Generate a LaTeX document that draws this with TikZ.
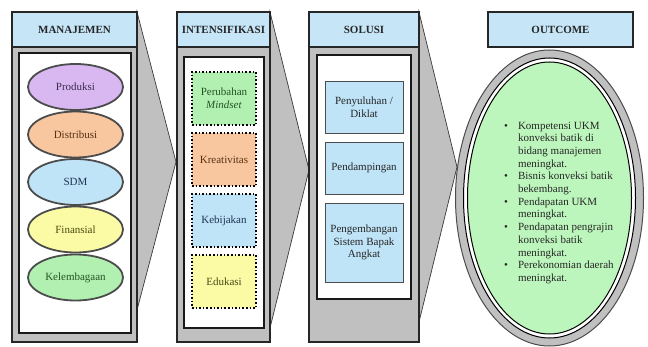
\documentclass[tikz,border=0pt]{standalone}
\usepackage{fontspec}
\setmainfont{Liberation Serif}
\usetikzlibrary{shapes.geometric}

\definecolor{hdrblue}{HTML}{C6E6F8}
\definecolor{bodygrey}{HTML}{C0C0C0}
\definecolor{edgegrey}{HTML}{3A3A3A}
\definecolor{cPurple}{HTML}{D9B8F2}
\definecolor{cOrange}{HTML}{F8C79F}
\definecolor{cBlue}{HTML}{BFE3F7}
\definecolor{cYellow}{HTML}{FBFBA6}
\definecolor{cGreen}{HTML}{B2F0B2}
\definecolor{cMint}{HTML}{BDF6BD}
\definecolor{tPurple}{HTML}{3E2A4E}
\definecolor{tBrown}{HTML}{5A3212}
\definecolor{tNavy}{HTML}{1C3452}
\definecolor{tOlive}{HTML}{4A4A12}
\definecolor{tGreen}{HTML}{235523}

\tikzset{
  txt/.style={font=\fontsize{11}{12.7}\selectfont},
  header/.style={draw=black!85, line width=1.1pt, fill=hdrblue, font=\fontsize{11}{12.7}\selectfont\bfseries, text=black!85},
  colbody/.style={draw=black!85, line width=1.1pt, fill=bodygrey},
  panel/.style={draw=black!90, line width=1.4pt, fill=white},
  chevron/.style={draw=edgegrey, line width=0.7pt, fill=bodygrey},
  oval/.style={ellipse, draw=black!70, line width=1.8pt, minimum width=95pt, minimum height=46pt, inner sep=0pt, txt},
  dotbox/.style={draw=black, line width=1.6pt, dotted, minimum width=64pt, minimum height=53pt, inner sep=0pt, txt, align=center},
  solbox/.style={draw=black!70, line width=0.8pt, fill=cBlue, minimum width=78pt, inner sep=0pt, txt, align=center, text=black!85},
}

\begin{document}
\begin{tikzpicture}[x=1pt, y=-1pt]
\useasboundingbox (0,0) rectangle (648,347);
\fill[white] (0,0) rectangle (648,347);

% connecting chevrons behind the columns
\draw[chevron] (137,12) coordinate (a1t) -- (176,162) coordinate (a1p) -- (137,310) coordinate (a1b) -- cycle;
\draw[chevron] (270,12) coordinate (a2t) -- (309,170) coordinate (a2p) -- (270,328) coordinate (a2b) -- cycle;
\draw[chevron] (419,12) coordinate (a3t) -- (457,167) coordinate (a3p) -- (419,322) coordinate (a3b) -- cycle;

% ---------- column 1: MANAJEMEN ----------
\draw[colbody] (12,47) rectangle (137,342);
\node[header, minimum width=125pt, minimum height=35pt, inner sep=0pt] (h1) at (74.5,29.5) {MANAJEMEN};
\draw[panel] (19,53) rectangle (131,333);
\node[oval, fill=cPurple, text=tPurple] (e1) at (75.5,87) {Produksi};
\node[oval, fill=cOrange, text=tBrown] (e2) at (75.5,134.5) {Distribusi};
\node[oval, fill=cBlue, text=tNavy] (e3) at (75.5,182) {SDM};
\node[oval, fill=cYellow, text=tOlive] (e4) at (75.5,229.5) {Finansial};
\node[oval, fill=cGreen, text=tGreen] (e5) at (75.5,277.5) {Kelembagaan};

% ---------- column 2: INTENSIFIKASI ----------
\draw[colbody] (177,47) rectangle (270,342);
\node[header, minimum width=93pt, minimum height=35pt, inner sep=0pt] (h2) at (223.5,29.5) {INTENSIFIKASI};
\draw[panel] (184,57) rectangle (264,328);
\node[dotbox, fill=cGreen, text=tGreen] (d1) at (224,98.5) {Perubahan\\\textit{Mindset}};
\node[dotbox, fill=cOrange, text=tBrown] (d2) at (224,159.5) {Kreativitas};
\node[dotbox, fill=cBlue, text=tNavy] (d3) at (224,220.5) {Kebijakan};
\node[dotbox, fill=cYellow, text=tOlive] (d4) at (224,281.5) {Edukasi};

% ---------- column 3: SOLUSI ----------
\draw[colbody] (309,47) rectangle (419,342);
\node[header, minimum width=110pt, minimum height=35pt, inner sep=0pt] (h3) at (364,29.5) {SOLUSI};
\draw[panel] (317,55) rectangle (411,299);
\node[solbox, minimum height=52pt] (s1) at (364,107) {Penyuluhan /\\Diklat};
\node[solbox, minimum height=52pt] (s2) at (364,168) {Pendampingan};
\node[solbox, minimum height=79pt] (s3) at (364,242.5) {Pengembangan\\Sistem Bapak\\Angkat};

% ---------- column 4: OUTCOME ----------
\node[header, minimum width=145pt, minimum height=35pt, inner sep=0pt] (h4) at (560.5,29.5) {OUTCOME};
\draw[draw=black!70, line width=1pt, fill=bodygrey] (549.5,198) ellipse [x radius=94, y radius=148];
\draw[draw=black, line width=1pt, fill=white] (549.5,198) ellipse [x radius=86, y radius=140];
\draw[draw=black, line width=1pt, fill=cMint] (549.5,198) ellipse [x radius=82, y radius=136];
\node[txt, anchor=north west, inner sep=0pt, text=black!85] (out) at (504,120) {%
  \begin{tabular}{@{}l@{\hspace{10pt}}l@{}}
  \textbullet & Kompetensi UKM\\
              & konveksi batik di\\
              & bidang manajemen\\
              & meningkat.\\
  \textbullet & Bisnis konveksi batik\\
              & bekembang.\\
  \textbullet & Pendapatan UKM\\
              & meningkat.\\
  \textbullet & Pendapatan pengrajin\\
              & konveksi batik\\
              & meningkat.\\
  \textbullet & Perekonomian daerah\\
              & meningkat.
  \end{tabular}};
\end{tikzpicture}
\end{document}
